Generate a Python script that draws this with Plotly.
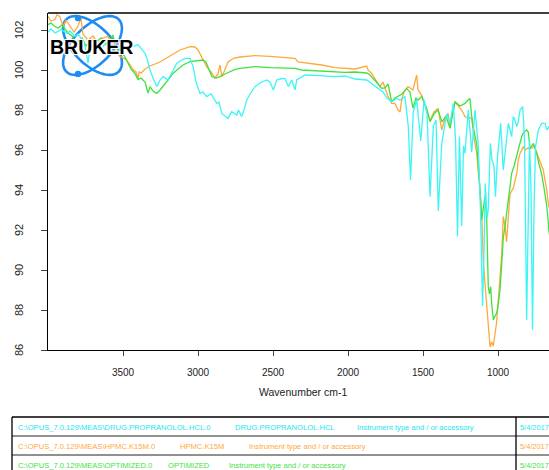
import numpy as np
import plotly.graph_objects as go

# ---------------- data ----------------
drug_wn = [4000, 3980, 3953, 3911, 3873, 3853, 3822, 3800, 3773, 3753, 3733, 3720, 3687, 3653, 3620, 3587,
           3553, 3511, 3473, 3433, 3400, 3380, 3353, 3337, 3320, 3300, 3275, 3253, 3233, 3200, 3173, 3142,
           3120, 3087, 3053, 3033, 3013, 2987, 2967, 2942, 2913, 2875, 2860, 2842, 2820, 2800, 2775, 2760,
           2742, 2730, 2709, 2693, 2675, 2653, 2620, 2587, 2542, 2520, 2498, 2475, 2453, 2420, 2398, 2375,
           2353, 2342, 2320, 2287, 2187, 2087, 2020, 1953, 1875, 1833, 1800, 1767, 1740, 1709, 1675, 1653,
           1620, 1598, 1583, 1565, 1542, 1515, 1493, 1473, 1453, 1431, 1413, 1398, 1375, 1342, 1320, 1298,
           1283, 1270, 1257, 1242, 1230, 1220, 1198, 1175, 1153, 1142, 1131, 1117, 1103, 1093, 1085, 1073,
           1065, 1051, 1040, 1027, 1017, 1003, 982, 965, 942, 931, 909, 898, 887, 875, 865, 853, 835, 823,
           809, 800, 790, 780, 770, 760, 750, 731, 709, 687, 673, 660, 640, 620, 600]
drug_t = [101.9, 102.05, 101.85, 102.02, 101.83, 101.95, 101.68, 101.8, 101.5, 101.2, 100.35, 101.1, 101.3,
          101.0, 101.3, 101.1, 101.2, 101.18, 101.1, 101.17, 101.27, 101.1, 100.83, 100.5, 100.0, 99.6, 99.17,
          99.5, 99.67, 99.5, 99.9, 100.33, 100.45, 100.58, 100.58, 100.17, 99.4, 98.83, 98.9, 98.67, 98.8,
          98.33, 98.4, 97.83, 97.7, 97.58, 97.92, 97.85, 97.75, 98.0, 97.67, 98.0, 98.5, 98.8, 99.17, 99.35,
          99.5, 99.4, 99.0, 99.5, 99.55, 99.58, 99.17, 99.5, 99.0, 99.5, 99.6, 99.75, 99.72, 99.67, 99.7,
          99.55, 99.5, 99.25, 99.1, 98.9, 98.6, 98.42, 98.58, 98.5, 98.67, 97.17, 94.5, 97.9, 98.5, 96.45,
          98.5, 97.8, 93.67, 97.2, 97.5, 92.95, 96.33, 97.8, 97.33, 98.33, 96.5, 91.67, 96.67, 92.2, 96.2,
          95.83, 98.0, 95.9, 98.0, 97.0, 96.2, 93.0, 88.2, 91.0, 94.33, 92.6, 93.0, 96.33, 95.5, 95.2, 93.67,
          95.67, 97.33, 95.0, 96.83, 97.33, 96.67, 97.67, 97.5, 97.17, 97.4, 98.0, 98.17, 96.5, 87.5, 92.0,
          96.5, 94.0, 87.0, 93.0, 96.17, 97.0, 97.33, 97.33, 97.0, 97.17, 97.2, 97.1, 97.0]

hpmc_wn = [4000, 3980, 3955, 3940, 3922, 3900, 3880, 3853, 3827, 3800, 3780, 3767, 3733, 3700, 3667, 3633,
           3600, 3567, 3522, 3478, 3433, 3413, 3400, 3393, 3378, 3353, 3320, 3253, 3187, 3120, 3053, 3020,
           3000, 2975, 2942, 2908, 2887, 2867, 2853, 2842, 2827, 2800, 2760, 2720, 2620, 2520, 2420, 2353,
           2333, 2253, 2175, 2087, 2020, 1953, 1875, 1867, 1842, 1813, 1787, 1767, 1733, 1709, 1687, 1667,
           1653, 1642, 1627, 1600, 1567, 1542, 1533, 1509, 1487, 1453, 1427, 1400, 1375, 1353, 1333, 1320,
           1287, 1267, 1242, 1220, 1200, 1175, 1160, 1142, 1133, 1120, 1109, 1098, 1087, 1075, 1065, 1053,
           1042, 1031, 1020, 1009, 998, 987, 975, 965, 953, 943, 931, 920, 898, 875, 865, 853, 831, 820, 800,
           775, 760, 742, 727, 709, 698, 687, 675, 665, 660, 640, 620, 600]
hpmc_t = [102.68, 102.45, 102.52, 102.75, 102.68, 102.18, 102.5, 102.2, 101.9, 102.2, 102.6, 101.8, 101.5,
          101.7, 101.35, 101.6, 101.68, 101.2, 100.68, 100.52, 100.02, 99.9, 99.55, 99.9, 99.85, 100.05,
          100.2, 100.4, 100.7, 101.0, 101.17, 101.15, 101.0, 100.67, 100.17, 99.85, 99.6, 99.8, 100.25,
          99.67, 99.9, 100.4, 100.6, 100.65, 100.72, 100.68, 100.62, 100.58, 100.4, 100.32, 100.25, 100.12,
          100.08, 100.05, 100.2, 100.0, 99.83, 99.5, 99.17, 99.4, 98.67, 98.33, 98.33, 98.0, 97.9, 98.5,
          98.9, 99.17, 99.0, 99.75, 99.0, 98.75, 98.2, 97.45, 97.9, 98.08, 97.0, 97.6, 97.83, 97.17, 98.4,
          98.2, 98.0, 97.67, 97.6, 97.58, 96.6, 95.83, 95.0, 94.0, 93.0, 90.4, 89.3, 88.0, 87.0, 86.15, 86.4,
          86.2, 86.8, 87.4, 88.5, 89.8, 90.8, 92.67, 92.2, 91.4, 93.0, 93.8, 94.1, 94.83, 95.5, 95.83, 96.17,
          96.0, 96.1, 96.08, 96.2, 95.83, 95.6, 95.17, 95.0, 94.5, 94.0, 93.33, 93.17, 92.5, 92.0, 91.8]

opt_wn = [4000, 3980, 3960, 3933, 3907, 3887, 3867, 3840, 3820, 3800, 3773, 3747, 3711, 3680, 3645, 3613,
          3587, 3567, 3547, 3520, 3489, 3467, 3445, 3422, 3400, 3380, 3353, 3333, 3320, 3300, 3275, 3253,
          3233, 3200, 3167, 3133, 3100, 3053, 3000, 2967, 2947, 2933, 2908, 2880, 2853, 2820, 2787, 2753,
          2720, 2620, 2520, 2420, 2353, 2309, 2220, 2153, 2020, 1953, 1875, 1853, 1833, 1800, 1775, 1753,
          1733, 1720, 1709, 1687, 1667, 1640, 1609, 1587, 1567, 1547, 1533, 1509, 1475, 1453, 1427, 1400,
          1373, 1347, 1320, 1287, 1253, 1220, 1200, 1187, 1177, 1167, 1142, 1130, 1120, 1109, 1097, 1087,
          1075, 1065, 1057, 1049, 1042, 1031, 1020, 1009, 998, 987, 975, 965, 953, 942, 931, 920, 909, 893,
          875, 860, 842, 827, 809, 798, 787, 775, 764, 753, 742, 727, 709, 693, 675, 665, 660, 640, 620, 600]
opt_t = [102.27, 102.35, 102.2, 102.1, 102.25, 102.05, 101.85, 101.7, 101.4, 101.43, 101.6, 101.2, 101.52,
         101.4, 101.6, 101.3, 101.5, 101.75, 101.1, 101.0, 100.68, 100.35, 100.02, 99.85, 99.52, 99.6, 99.4,
         98.85, 99.17, 98.95, 98.83, 99.0, 99.17, 99.5, 99.83, 100.05, 100.25, 100.42, 100.47, 100.5, 100.4,
         100.17, 99.67, 99.6, 99.67, 99.8, 99.92, 100.03, 100.08, 100.17, 100.12, 100.1, 100.08, 100.0,
         99.97, 99.92, 99.88, 99.9, 99.85, 99.75, 99.6, 99.3, 99.08, 99.1, 99.3, 98.75, 98.42, 98.6, 98.7,
         98.8, 99.08, 98.9, 98.1, 98.6, 98.5, 98.67, 98.08, 97.42, 97.8, 98.0, 97.4, 97.7, 97.08, 98.42,
         98.2, 98.33, 98.5, 98.58, 97.8, 97.2, 96.3, 95.2, 94.0, 92.5, 93.2, 93.67, 92.5, 89.2, 88.8, 89.17,
         88.3, 87.5, 87.7, 87.83, 88.3, 89.0, 90.3, 91.6, 92.2, 92.9, 93.5, 94.4, 94.83, 95.2, 95.7, 96.2,
         96.67, 96.9, 97.0, 96.9, 96.1, 96.2, 96.33, 96.1, 95.83, 95.3, 94.8, 94.1, 93.2, 92.4, 91.92, 91.0,
         90.6, 90.4]

x_ticks = [3500, 3000, 2500, 2000, 1500, 1000]
y_ticks = [86, 88, 90, 92, 94, 96, 98, 100, 102]

table_rows = [
    ["C:\\OPUS_7.0.129\\MEAS\\DRUG.PROPRANOLOL.HCL.0", "DRUG.PROPRANOLOL.HCL",
     "Instrument type and / or accessory", "5/4/2017"],
    ["C:\\OPUS_7.0.129\\MEAS\\HPMC.K15M.0", "HPMC.K15M",
     "Instrument type and / or accessory", "5/4/2017"],
    ["C:\\OPUS_7.0.129\\MEAS\\OPTIMIZED.0", "OPTIMIZED",
     "Instrument type and / or accessory", "5/4/2017"],
]

# ---------------- layout in page pixels (body margin removed by post_script) ----------------
P_LEFT, P_RIGHT, P_TOP, P_BOTTOM = 48, 558, 13, 350
FIG_W, FIG_H = 560, 480
ML, MT = P_LEFT, P_TOP
MR = FIG_W - P_RIGHT
MB = FIG_H - P_BOTTOM
PW, PH = P_RIGHT - P_LEFT, P_BOTTOM - P_TOP

CYAN, ORANGE, GREEN = "#3cf5f5", "#ffa83c", "#3fe23f"
TABLE_COLORS = ["#22e6f0", "#ffa83c", "#3fe23f"]
FONT = "Liberation Sans Narrow, Arial Narrow, Liberation Sans, Arial, sans-serif"


def px(x):
    return (x - P_LEFT) / PW


def py(y):
    return (P_BOTTOM - y) / PH


fig = go.Figure()
for wn, t, c in [(hpmc_wn, hpmc_t, ORANGE), (opt_wn, opt_t, GREEN), (drug_wn, drug_t, CYAN)]:
    fig.add_trace(go.Scatter(x=wn, y=t, mode="lines", line=dict(color=c, width=1.3),
                             showlegend=False, hoverinfo="skip"))

shapes = []
annotations = []

# top border of plot
shapes.append(dict(type="line", xref="paper", yref="paper", x0=0, x1=1, y0=1, y1=1,
                   line=dict(color="black", width=1.5)))

# ---- logo (atom orbits) ----
cx, cy = 92.5, 45.5
a, b = 37.0, 19.0
tt = np.linspace(0, 2 * np.pi, 90)
dots = []
for ang in (np.pi / 4, -np.pi / 4):
    ex = cx + a * np.cos(tt) * np.cos(ang) - b * np.sin(tt) * np.sin(ang)
    ey = cy + a * np.cos(tt) * np.sin(ang) + b * np.sin(tt) * np.cos(ang)
    path = "M " + " L ".join(f"{px(xx):.5f},{py(yy):.5f}" for xx, yy in zip(ex, ey)) + " Z"
    shapes.append(dict(type="path", xref="paper", yref="paper", path=path,
                       line=dict(color="#1e8cf0", width=2.6), layer="below"))
    i = np.argmin(ey) if ang > 0 else np.argmax(ey)
    dots.append((ex[i] + 3, ey[i] + (2 if ang > 0 else -1)))
for dx, dy in dots:
    r = 3.2
    shapes.append(dict(type="circle", xref="paper", yref="paper",
                       x0=px(dx - r), x1=px(dx + r), y0=py(dy + r), y1=py(dy - r),
                       fillcolor="#1e8cf0", line=dict(width=0), layer="above"))

annotations.append(dict(text="<b>BRUKER</b>", xref="paper", yref="paper", x=px(91.5), y=py(47),
                        xanchor="center", yanchor="middle", showarrow=False,
                        font=dict(family="Liberation Sans, Arial, sans-serif", size=19.5, color="black",
                                  shadow="1px 1px 0px #fff, -1px -1px 0px #fff, 1px -1px 0px #fff, -1px 1px 0px #fff")))

# rotated y tick labels
for v in y_ticks:
    annotations.append(dict(text=str(v), xref="paper", yref="y", x=px(19), y=v, textangle=-90,
                            xanchor="center", yanchor="middle", showarrow=False,
                            font=dict(family=FONT, size=11, color="#222")))

# x axis title
annotations.append(dict(text="Wavenumber cm-1", xref="paper", yref="paper", x=px(303), y=py(392),
                        xanchor="center", yanchor="middle", showarrow=False,
                        font=dict(family=FONT, size=10.5, color="#222")))

# ---- table ----
tl, tr_, tt0 = 12, 580, 417
row_h = 19
shapes.append(dict(type="line", xref="paper", yref="paper", x0=px(tl), x1=px(tr_), y0=py(tt0), y1=py(tt0),
                   line=dict(color="black", width=1.3)))
for k in range(1, 3):
    yy = tt0 + k * row_h
    shapes.append(dict(type="line", xref="paper", yref="paper", x0=px(tl), x1=px(tr_), y0=py(yy), y1=py(yy),
                       line=dict(color="#222", width=1)))
for xx in (tl, 516):
    shapes.append(dict(type="line", xref="paper", yref="paper", x0=px(xx), x1=px(xx), y0=py(tt0), y1=py(495),
                       line=dict(color="black", width=1.3)))
col_x = [[16, 233, 355, 518], [16, 178, 247, 518], [16, 166, 227, 518]]
for r, (row, cols) in enumerate(zip(table_rows, col_x)):
    yc = tt0 + row_h * r + row_h / 2 + 0.5
    for txt, xx in zip(row, cols):
        annotations.append(dict(text=txt, xref="paper", yref="paper", x=px(xx), y=py(yc),
                                xanchor="left", yanchor="middle", showarrow=False,
                                font=dict(family=FONT, size=7.4 if xx == 518 else 7.6,
                                          color=TABLE_COLORS[r])))

fig.update_layout(
    width=FIG_W, height=FIG_H, margin=dict(l=ML, r=MR, t=MT, b=MB, pad=0, autoexpand=False),
    paper_bgcolor="white", plot_bgcolor="white",
    shapes=shapes, annotations=annotations,
    xaxis=dict(range=[4000, 600], tickvals=x_ticks, showgrid=False, zeroline=False,
               showline=True, linecolor="black", linewidth=1.3, ticks="outside", ticklen=5,
               tickcolor="#444", tickwidth=1, ticklabelstandoff=8,
               tickfont=dict(family=FONT, size=10, color="#222")),
    yaxis=dict(range=[86, 102.85], tickvals=y_ticks, showgrid=False, zeroline=False,
               showline=True, linecolor="black", linewidth=1.3, ticks="outside", ticklen=6,
               tickcolor="#444", tickwidth=1, showticklabels=False),
)

fig.write_html("out.html", config={"displayModeBar": False},
               post_script="document.body.style.margin='0';document.body.style.overflow='hidden';"
                           "document.documentElement.style.overflow='hidden';")
